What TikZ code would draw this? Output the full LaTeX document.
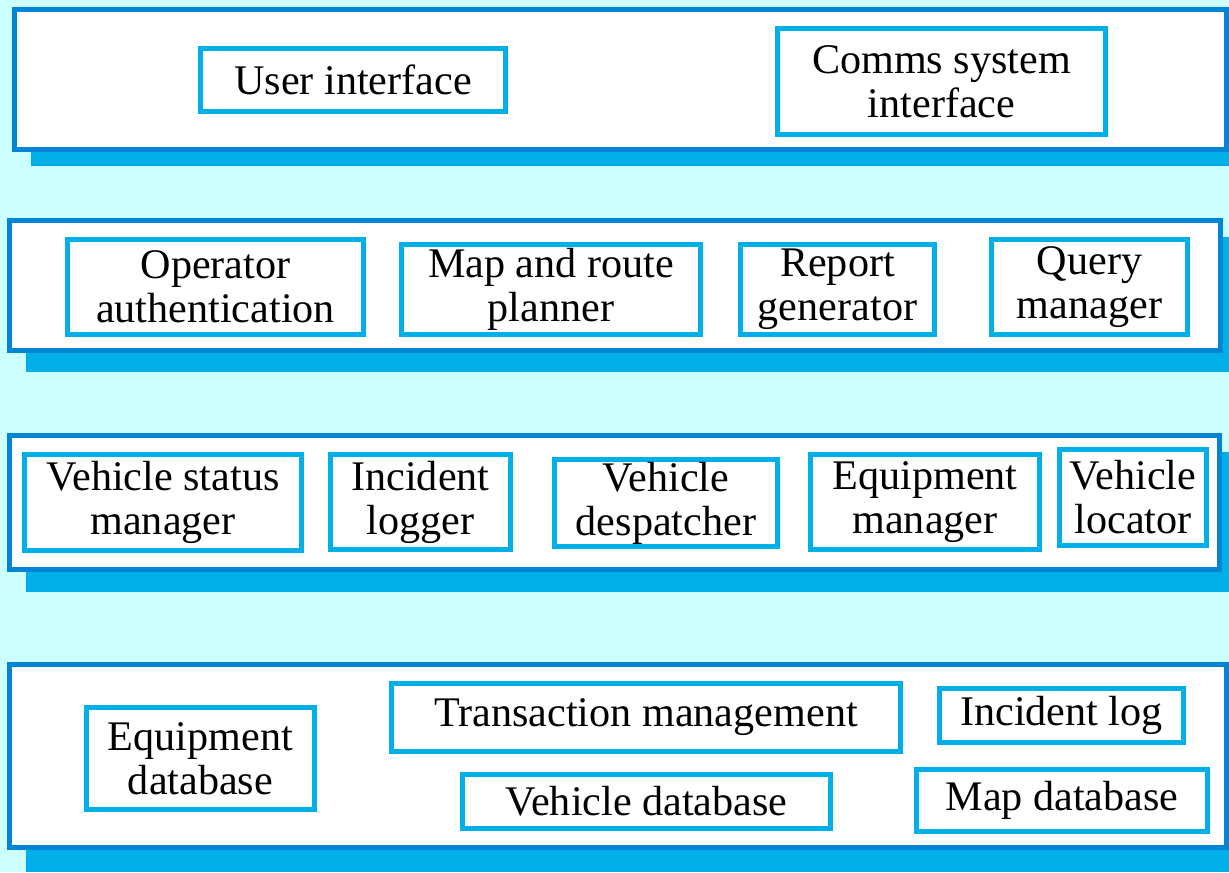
\documentclass[tikz,border=0pt]{standalone}
\usepackage{fontspec}
\setmainfont{Liberation Serif}
\usepackage{tikz}
\usetikzlibrary{positioning}
\definecolor{bgcyan}{HTML}{CCFFFF}
\definecolor{layerblue}{HTML}{0084D6}
\definecolor{shadowcyan}{HTML}{00AEE8}

\begin{document}
\begin{tikzpicture}[x=0.02cm, y=-0.02cm,
  layer/.style={draw=layerblue, fill=white, line width=0.1cm},
  comp/.style={draw=shadowcyan, fill=white, line width=0.1cm, inner sep=0pt, align=center,
    font=\fontsize{24}{25}\selectfont}]
\useasboundingbox (0,0) rectangle (1229,872);
\fill[bgcyan] (0,0) rectangle (1229,872);
% layers
\fill[shadowcyan] (31,26) rectangle (1229,166);
\draw[layer] (14.5,9.5) rectangle (1226.5,149.5);
\fill[shadowcyan] (26,237) rectangle (1229,372);
\draw[layer] (9.5,220.5) rectangle (1220.5,350.5);
\fill[shadowcyan] (26,452) rectangle (1229,592);
\draw[layer] (9.5,435.5) rectangle (1219.5,569.5);
\fill[shadowcyan] (26,681) rectangle (1229,872);
\draw[layer] (9.5,664.5) rectangle (1226.5,847.5);
% top layer
\node[comp, minimum width=6.1cm, minimum height=1.26cm] (userif) at (353,80) {User interface};
\node[comp, minimum width=6.56cm, minimum height=2.12cm] (commsif) at (941.5,81.5) {Comms system\\interface};
% second layer
\node[comp, minimum width=5.92cm, minimum height=1.9cm] (opauth) at (215.5,287) {Operator\\authentication};
\node[comp, minimum width=5.98cm, minimum height=1.8cm] (mapplan) at (551,289.5) {Map and route\\planner};
\node[comp, minimum width=3.88cm, minimum height=1.8cm] (repgen) at (837.5,289.5) {Report\\generator};
\node[comp, minimum width=3.92cm, minimum height=1.9cm] (querymgr) at (1089.5,287) {Query\\manager};
% third layer
\node[comp, minimum width=5.54cm, minimum height=1.92cm] (vstatus) at (163,502.5) {Vehicle status\\manager};
\node[comp, minimum width=3.6cm, minimum height=1.9cm] (inclogger) at (420.5,502) {Incident\\logger};
\node[comp, minimum width=4.46cm, minimum height=1.74cm] (vdesp) at (666,503) {Vehicle\\despatcher};
\node[comp, minimum width=4.58cm, minimum height=1.9cm] (equipmgr) at (925,502) {Equipment\\manager};
\node[comp, minimum width=2.94cm, minimum height=1.92cm] (vlocator) at (1133,497.5) {Vehicle\\locator};
% bottom layer
\node[comp, minimum width=4.56cm, minimum height=2.04cm] (equipdb) at (200.5,758.5) {Equipment\\database};
\node[comp, minimum width=10.18cm, minimum height=1.36cm] (transmgmt) at (646,717.5) {Transaction management};
\node[comp, minimum width=4.88cm, minimum height=1.08cm] (inclog) at (1061.5,715.5) {Incident log};
\node[comp, minimum width=7.36cm, minimum height=1.08cm] (vehdb) at (646.5,801.5) {Vehicle database};
\node[comp, minimum width=5.82cm, minimum height=1.24cm] (mapdb) at (1062,800.5) {Map database};
\end{tikzpicture}
\end{document}
